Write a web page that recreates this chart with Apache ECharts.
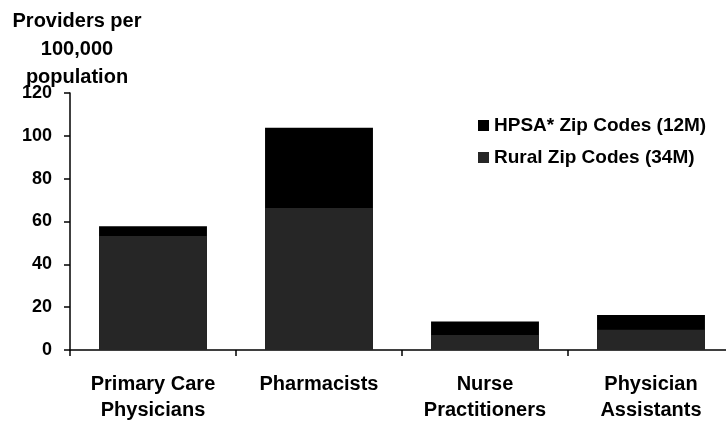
<!DOCTYPE html>
<html><head><meta charset="utf-8">
<script src="https://cdn.jsdelivr.net/npm/echarts@6/dist/echarts.min.js"></script>
<style>html,body{margin:0;padding:0;background:#fff;overflow:hidden}#c{width:734px;height:440px}</style>
</head><body><div id="c"></div>
<script>
var categories = ['Primary Care\nPhysicians', 'Pharmacists', 'Nurse\nPractitioners', 'Physician\nAssistants'];
var hpsaValues = [57.8, 103.8, 13.3, 16.4];
var ruralValues = [53.2, 66.3, 7.0, 9.4];
var yTicks = [0, 20, 40, 60, 80, 100, 120];
var seriesNames = ['HPSA* Zip Codes (12M)', 'Rural Zip Codes (34M)'];
var yTitle = 'Providers per\n100,000\npopulation';

var font = '"Liberation Sans", Arial, sans-serif';
var chart = echarts.init(document.getElementById('c'), null, {renderer: 'canvas'});
chart.setOption({
  animation: false,
  backgroundColor: '#fff',
  grid: {left: 70, top: 93, right: 0, height: 257},
  graphic: [{
    type: 'text', x: 77, y: 7,
    style: {text: yTitle, font: 'bold 20px ' + font, fill: '#000', textAlign: 'center', lineHeight: 28}
  }],
  legend: {
    orient: 'vertical', left: 473, top: 111, itemWidth: 11, itemHeight: 11, itemGap: 13,
    icon: 'rect',
    textStyle: {fontFamily: font, fontWeight: 'bold', fontSize: 19, color: '#000'},
    data: seriesNames
  },
  xAxis: {
    type: 'category', data: categories,
    axisLine: {lineStyle: {color: '#000', width: 1.5}},
    axisTick: {show: true, length: 6, lineStyle: {color: '#000', width: 1.5}},
    axisLabel: {fontFamily: font, fontWeight: 'bold', fontSize: 20, color: '#000', margin: 21, lineHeight: 26},
    splitLine: {show: false}
  },
  yAxis: {
    type: 'value', min: 0, max: 120, interval: 20,
    axisLine: {show: true, lineStyle: {color: '#000', width: 1.5}},
    axisTick: {show: true, length: 6, lineStyle: {color: '#000', width: 1.5}},
    axisLabel: {fontFamily: font, fontWeight: 'bold', fontSize: 18, color: '#000', margin: 18,
      formatter: function (v) { return yTicks.indexOf(v) >= 0 ? String(v) : ''; }},
    splitLine: {show: false}
  },
  series: [
    {name: seriesNames[0], type: 'bar', data: hpsaValues, barWidth: '65%', barGap: '-100%',
     itemStyle: {color: '#000'}, z: 2},
    {name: seriesNames[1], type: 'bar', data: ruralValues, barWidth: '65%', barGap: '-100%',
     itemStyle: {color: '#262626'}, z: 3}
  ]
});
</script></body></html>
